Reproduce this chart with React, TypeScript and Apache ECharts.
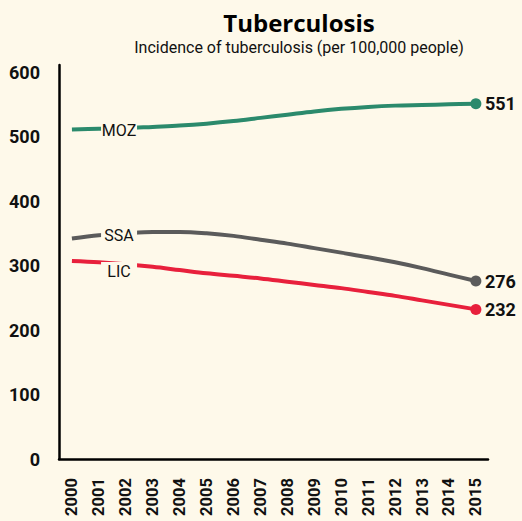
import React, { useEffect, useRef } from "react";
import * as echarts from "echarts";

const years = [2000, 2001, 2002, 2003, 2004, 2005, 2006, 2007, 2008, 2009, 2010, 2011, 2012, 2013, 2014, 2015];
const moz = [511, 512, 513, 515, 517, 520, 524, 529, 534, 539, 543, 546, 548, 549, 550, 551];
const ssa = [342, 347, 350, 352, 352, 350, 346, 340, 334, 327, 320, 313, 305, 296, 286, 276];
const lic = [307, 305, 302, 298, 293, 288, 284, 280, 275, 270, 265, 259, 253, 246, 239, 232];
const yTicks = [0, 100, 200, 300, 400, 500, 600];

const BG = "#fef9ea";
const NARROW = 'Roboto, "Liberation Sans", sans-serif';

export default function App() {
  const ref = useRef<HTMLDivElement>(null);
  useEffect(() => {
    document.body.style.margin = "0";
    const chart = echarts.init(ref.current!, null, { renderer: "svg" });
    const mk = (name: string, vals: number[], color: string, tagY: number, tagH: number) => ({
      name,
      type: "line",
      smooth: 0.35,
      data: years.map((y, i) => [y, vals[i]]),
      lineStyle: { color, width: 4 },
      itemStyle: { color },
      symbol: "circle",
      showAllSymbol: true,
      symbolSize: (_v: any, p: any) => (p.dataIndex === years.length - 1 ? 11 : 0),
      endLabel: {
        show: true,
        formatter: (p: any) => String(p.value[1]),
        fontFamily: NARROW,
        fontWeight: "bold",
        fontSize: 18,
        color: "#111",
        distance: 9,
      },
      markPoint: {
        symbol: "rect",
        symbolSize: [36, tagH],
        itemStyle: { color: BG },
        label: {
          show: true,
          position: "inside",
          formatter: name,
          fontFamily: NARROW,
          fontSize: 16,
          color: "#111",
        },
        data: [{ coord: [2001.75, tagY] }],
      },
    });
    chart.setOption({
      animation: false,
      backgroundColor: BG,
      grid: { left: 59, right: 34, top: 65, bottom: 62 },
      graphic: [
        {
          type: "text",
          x: 299,
          y: 22,
          style: {
            text: "Tuberculosis",
            textAlign: "center",
            textVerticalAlign: "middle",
            font: 'bold 24px "Open Sans", sans-serif',
            fill: "#000",
          },
        },
        {
          type: "text",
          x: 299,
          y: 47,
          style: {
            text: "Incidence of tuberculosis (per 100,000 people)",
            textAlign: "center",
            textVerticalAlign: "middle",
            font: "16px " + NARROW,
            fill: "#111",
          },
        },
      ],
      xAxis: {
        type: "value",
        min: 1999.52,
        max: 2015.45,
        axisLine: { show: true, lineStyle: { color: "#000", width: 2.5 } },
        axisTick: { show: false },
        splitLine: { show: false },
        axisLabel: {
          customValues: years,
          rotate: 90,
          margin: 19,
          fontFamily: NARROW,
          fontWeight: "bold",
          fontSize: 16.5,
          color: "#111",
          formatter: (v: number) => String(v),
        },
      },
      yAxis: {
        type: "value",
        min: 0,
        max: 611,
        axisLine: { show: true, lineStyle: { color: "#000", width: 2.5 } },
        axisTick: { show: false },
        splitLine: { show: false },
        axisLabel: {
          customValues: yTicks,
          margin: 19,
          padding: [8, 0, 0, 0],
          fontFamily: NARROW,
          fontWeight: "bold",
          fontSize: 18,
          color: "#111",
        },
      },
      series: [
        mk("MOZ", moz, "#2b8a6c", 510, 16),
        mk("SSA", ssa, "#5b5b5b", 347, 16),
        mk("LIC", lic, "#e8203c", 290, 20),
      ],
    });
    return () => chart.dispose();
  }, []);
  return <div ref={ref} style={{ width: 522, height: 521, position: "absolute", left: 0, top: 0 }} />;
}
